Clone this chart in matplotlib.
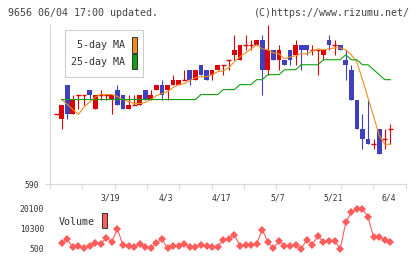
import matplotlib
matplotlib.use('Agg')
import matplotlib.pyplot as plt
import matplotlib.transforms as mtransforms
from matplotlib.patches import Rectangle
import numpy as np

W, H = 420, 259

# candle data, first entry is the partly visible day before the volume series
days = np.arange(-1, 60)
opens = [604, 603, 610, 604, 608, 608, 609, 605, 608, 608, 607, 609, 608, 605, 606, 606,
         609, 607, 609, 610, 609, 610, 610, 611, 613, 611, 614, 613, 612, 613, 614, 615,
         616, 615, 618, 618, 618, 619, 613, 617, 615, 615, 617, 616, 618, 618, 617, 617,
         616, 619, 618, 618, 615, 613, 607, 601, 599, 598, 601, 599, 601]
highs = [604, 606, 610, 608, 608, 608, 609, 608, 609, 608, 608, 610, 608, 608, 608, 608,
         609, 609, 610, 611, 610, 612, 611, 613, 613, 613, 614, 613, 613, 614, 614, 615,
         620, 618, 620, 619, 619, 620, 622, 617, 618, 615, 617, 619, 618, 618, 618, 617,
         617, 620, 619, 618, 617, 614, 607, 604, 607, 599, 601, 601, 602]
lows = [604, 601, 603, 604, 605, 606, 607, 605, 607, 607, 604, 606, 605, 605, 606, 606,
        607, 607, 609, 607, 607, 610, 610, 611, 610, 611, 612, 611, 611, 613, 612, 613,
        615, 615, 617, 617, 618, 608, 612, 615, 613, 614, 614, 614, 613, 616, 616, 612,
        615, 617, 616, 617, 611, 607, 601, 597, 598, 597, 596, 597, 598]
closes = [604, 606, 604, 607, 608, 608, 608, 608, 608, 608, 608, 606, 605, 606, 606, 608,
          607, 608, 610, 608, 610, 611, 611, 611, 611, 613, 612, 611, 613, 614, 614, 615,
          617, 618, 618, 618, 619, 613, 617, 615, 617, 614, 615, 618, 617, 617, 617, 617,
          617, 618, 618, 617, 614, 607, 601, 599, 598, 598, 596, 599, 601]

ma5 = [np.nan, 607, 606, 605, 604, 605.5, 606.5, 607.5, 608, 608, 608, 607.6, 607, 606.6,
       606.2, 606.2, 606.4, 607, 607.8, 608.2, 608.6, 609.4, 610, 610.2, 610.8, 611.4, 611.6,
       611.6, 612, 612.6, 612.8, 613.4, 614.6, 615.6, 616.4, 617.2, 618, 617.2, 617, 616.4,
       616.2, 615.2, 615.6, 615.8, 616.2, 616.2, 616.8, 617.2, 617, 617.2, 617.4, 617.4, 617,
       616, 614.5, 611, 607.3, 603.6, 599.8, 598, 598]
ma25 = [np.nan] + [607] * 25 + [608, 608, 608, 608, 609, 609, 609, 610, 610, 610, 611, 611,
                                612, 612, 612, 613, 613, 613, 614, 614, 614, 614, 615, 615,
                                615, 615, 616, 615, 615, 614, 614, 613, 612, 611, 611]

volume = [np.nan, 3440, 5400, 1320, 1800, 830, 1800, 3440, 2950, 5890, 4090, 10300, 2460,
          1800, 1320, 3110, 1480, 990, 3440, 5400, 830, 1800, 1800, 3110, 1320, 1320, 2300,
          1800, 1480, 1320, 5070, 5400, 7520, 2130, 2460, 2460, 2950, 9970, 4090, 830, 4260,
          2130, 1970, 2460, 500, 5070, 2620, 7030, 3770, 4580, 4580, 500, 13560, 18630,
          20100, 20100, 16180, 6220, 6380, 5070, 3770]

date_labels = ['3/19', '4/3', '4/17', '5/7', '5/21', '6/4']
date_pos = [9, 19, 29, 39, 49, 59]

RED = '#dd0000'
BLUE = '#3f3fbf'
ORANGE = '#f08c1a'
GREEN = '#10a010'
VOL = '#ff5c5c'
GRID = '#d8d8d8'
TXT = '#333333'
MONO = 'DejaVu Sans Mono'

fig = plt.figure(figsize=(W / 100, H / 100), dpi=100)
fig.patch.set_facecolor('white')


def fx(x):
    return x / W


def fy(y):
    return 1 - y / H


xmin, xmax = -2.1, 61.76

# price panel
ax = fig.add_axes([fx(50), fy(184), 355.7 / W, 159 / H])
ax.set_xlim(xmin, xmax)
ax.set_ylim(590, 622)
for s in ['top', 'right']:
    ax.spines[s].set_visible(False)
for s in ['left', 'bottom']:
    ax.spines[s].set_color(GRID)
    ax.spines[s].set_linewidth(0.8)
ax.set_xticks(np.linspace(xmin, xmax, 12))
ax.set_xticklabels([])
ax.set_yticks([590])
ax.set_yticklabels(['590'], family=MONO, fontsize=5.8, color=TXT)
ax.tick_params(axis='both', length=3.6, width=0.8, color=GRID, pad=4.3)

for d, o, h, l, c in zip(days, opens, highs, lows, closes):
    col = BLUE if c < o else RED
    ax.vlines(d, l, h, color=col, linewidth=0.8, zorder=3)
    if c == o:
        ax.hlines(c, d - 0.43, d + 0.43, color=col, linewidth=1.0, zorder=3)
    else:
        ax.bar(d, abs(c - o), bottom=min(o, c), width=0.86, color=col, linewidth=0, zorder=3)

ax.plot(days, ma5, color=ORANGE, linewidth=0.8, zorder=4)
ax.plot(days, ma25, color=GREEN, linewidth=0.8, zorder=4)

tr = mtransforms.blended_transform_factory(ax.transData, fig.transFigure)
for lab, p in zip(date_labels, date_pos):
    ax.text(p - 0.25, fy(198), lab, transform=tr, ha='center', va='center',
            family=MONO, fontsize=5.8, color=TXT)

# MA legend
fig.add_artist(Rectangle((fx(65), fy(77)), 78 / W, 47 / H, transform=fig.transFigure,
                         facecolor='white', edgecolor='#cccccc', linewidth=0.8, zorder=10))
fig.text(fx(125), fy(45.5), '5-day MA', ha='right', va='center', family=MONO,
         fontsize=7.2, color=TXT, zorder=11)
fig.text(fx(125), fy(62), '25-day MA', ha='right', va='center', family=MONO,
         fontsize=7.2, color=TXT, zorder=11)
fig.add_artist(Rectangle((fx(131.5), fy(52.5)), 5.5 / W, 15.5 / H, transform=fig.transFigure,
                         facecolor=ORANGE, edgecolor='#333333', linewidth=0.7, zorder=11))
fig.add_artist(Rectangle((fx(131.5), fy(69)), 5.5 / W, 15.5 / H, transform=fig.transFigure,
                         facecolor=GREEN, edgecolor='#333333', linewidth=0.7, zorder=11))

# volume panel
vax = fig.add_axes([fx(50), fy(253), 355.7 / W, 48 / H])
vax.set_xlim(xmin, xmax)
vax.set_ylim(500 - 4 * 490, 500 + 44 * 490)
for s in vax.spines.values():
    s.set_visible(False)
vax.set_xticks([])
vax.set_yticks([500, 10300, 20100])
vax.set_yticklabels(['500', '10300', '20100'], family=MONO, fontsize=5.8, color=TXT)
vax.tick_params(axis='y', length=0, pad=4.3)
vax.plot(days, volume, color=VOL, linewidth=0.8, marker='D', markersize=4.3,
         markeredgewidth=0)

fig.text(fx(59), fy(222), 'Volume', ha='left', va='center', family=MONO,
         fontsize=7.2, color=TXT)
fig.add_artist(Rectangle((fx(101.5), fy(228)), 5.5 / W, 15 / H, transform=fig.transFigure,
                         facecolor=VOL, edgecolor='#333333', linewidth=0.7, zorder=11))

# header
fig.text(fx(8), fy(13), '9656 06/04 17:00 updated.', ha='left', va='center',
         family=MONO, fontsize=7.2, color='#444444')
fig.text(fx(410), fy(13), '(C)https://www.rizumu.net/', ha='right', va='center',
         family=MONO, fontsize=7.2, color='#444444')

fig.savefig('out.png', dpi=100, facecolor='white')
